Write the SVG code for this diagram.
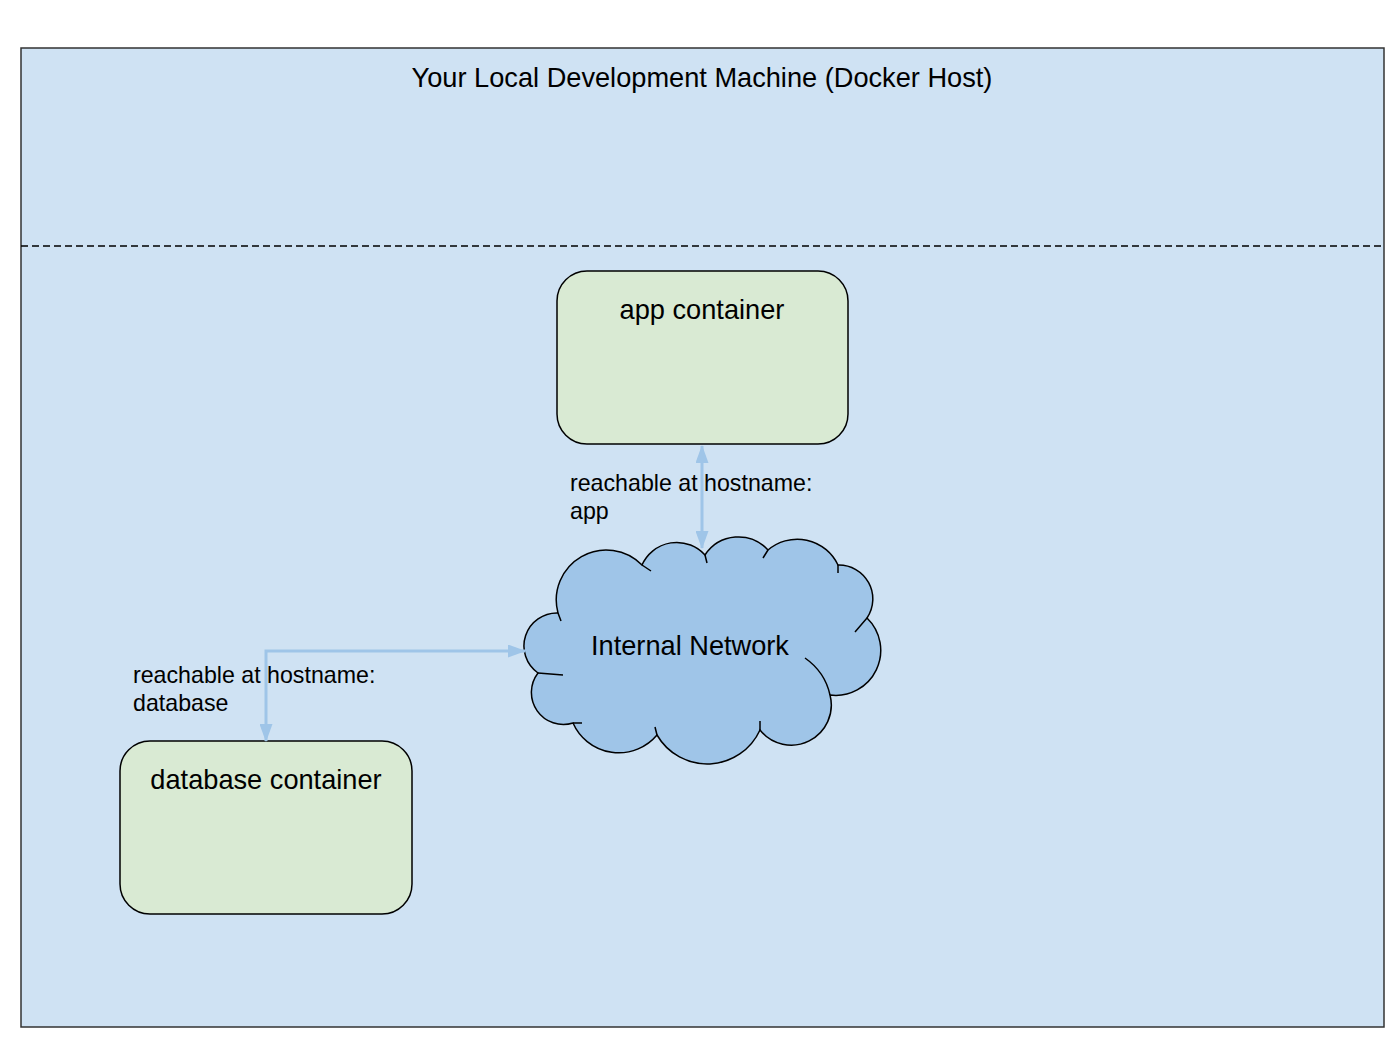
<svg xmlns="http://www.w3.org/2000/svg" width="1400" height="1050" viewBox="0 0 1400 1050">
  <defs>
    <style>
      text { font-family: "Liberation Sans", Arial, sans-serif; fill: #000; }
      .big { font-size: 27.2px; }
      .lbl { font-size: 23.2px; }
      .box { fill: #d9ead3; stroke: #000; stroke-width: 1.5; }
      .conn { fill: none; stroke: #9fc5e8; stroke-width: 3; }
      .cloud { fill: #9fc5e8; stroke: #000; stroke-width: 1.5; }
      .tail { fill: none; stroke: #000; stroke-width: 1.5; }
    </style>
    <marker id="arr" viewBox="0 0 18 13" refX="17" refY="6.5" markerWidth="18" markerHeight="13" markerUnits="userSpaceOnUse" orient="auto-start-reverse">
      <path d="M0,0 L18,6.5 L0,13 z" fill="#9fc5e8"/>
    </marker>
  </defs>
  <rect width="1400" height="1050" fill="#ffffff"/>
  <g id="host">
    <rect x="21" y="48" width="1363" height="979" fill="#cfe2f3" stroke="#333333" stroke-width="1.5"/>
    <line x1="21" y1="246" x2="1384" y2="246" stroke="#000" stroke-width="1.5" stroke-dasharray="7 4"/>
    <text class="big" x="702" y="87" text-anchor="middle">Your Local Development Machine (Docker Host)</text>
  </g>
  <g id="app-container">
    <rect class="box" x="557" y="271" width="291" height="173" rx="30" ry="30"/>
    <text class="big" x="702" y="319" text-anchor="middle">app container</text>
  </g>
  <g id="database-container">
    <rect class="box" x="120" y="741" width="292" height="173" rx="30" ry="30"/>
    <text class="big" x="266" y="789" text-anchor="middle">database container</text>
  </g>
  <g id="internal-network">
    <path class="cloud" d="M558,613 A50,50 0 0 1 642,565 A38,38 0 0 1 705,555 A40,40 0 0 1 768,550 A45,45 0 0 1 838,565 A34,34 0 0 1 867,618 A45,45 0 0 1 830,695 A40,40 0 0 1 760,730 A58,58 0 0 1 657,735 A50,50 0 0 1 573,723 A32,32 0 0 1 538,673 A33,33 0 0 1 558,613 Z"/>
    <path class="tail" d="M558,613 L561,621 M642,565 L651,571 M705,555 L707,563 M768,550 L763,558 M838,565 L838,573 M867,618 L855,632 M805,658 Q825,672 830,695 M760,730 L760,721 M657,735 L655,727 M573,723 L582,723 M538,673 L563,675"/>
    <text class="big" x="690" y="655" text-anchor="middle">Internal Network</text>
  </g>
  <g id="connectors">
    <line class="conn" x1="702" y1="446" x2="702" y2="548" marker-start="url(#arr)" marker-end="url(#arr)"/>
    <polyline class="conn" points="266,741 266,651 525,651" marker-start="url(#arr)" marker-end="url(#arr)"/>
    <text class="lbl" x="570" y="491">reachable at hostname:</text>
    <text class="lbl" x="570" y="519">app</text>
    <text class="lbl" x="133" y="683">reachable at hostname:</text>
    <text class="lbl" x="133" y="711">database</text>
  </g>
</svg>
